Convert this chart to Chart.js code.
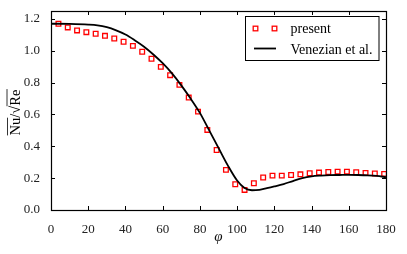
<!DOCTYPE html>
<html>
<head>
<meta charset="utf-8">
<script src="https://cdn.jsdelivr.net/npm/chart.js@4/dist/chart.umd.min.js"></script>
<style>
  html, body { margin: 0; padding: 0; background: #fff; }
  #wrap { width: 407px; height: 254px; }
</style>
</head>
<body>
<div id="wrap"><canvas id="nusselt"></canvas></div>
<script>

// present computation (open red squares)
var presentPhi = [4, 9, 14, 19, 24, 29, 34, 39, 44, 49, 54, 59, 64, 69, 74, 79, 84, 89,
                  94, 99, 104, 109, 114, 119, 124, 129, 134, 139, 144, 149, 154, 159, 164, 169, 174, 179];
var presentNu = [1.170, 1.147, 1.128, 1.117, 1.107, 1.094, 1.077, 1.057, 1.031, 0.994, 0.950, 0.899,
                 0.847, 0.786, 0.706, 0.618, 0.503, 0.377, 0.252, 0.162, 0.126, 0.168, 0.204, 0.216,
                 0.216, 0.220, 0.224, 0.231, 0.235, 0.239, 0.241, 0.241, 0.237, 0.233, 0.229, 0.227];

// Venezian et al. (solid black line)
var venezianPhi = [0, 10, 20, 25, 30, 35, 40, 45, 50, 55, 60, 65, 70, 75, 80, 85, 90, 95, 100,
                   104, 108, 112, 116, 120, 125, 130, 135, 140, 145, 150, 155, 160, 165, 170, 175, 180];
var venezianNu = [1.170, 1.169, 1.165, 1.160, 1.148, 1.128, 1.102, 1.066, 1.026, 0.977, 0.922, 0.858,
                  0.783, 0.700, 0.610, 0.500, 0.390, 0.280, 0.185, 0.138, 0.124, 0.127, 0.137, 0.148,
                  0.163, 0.182, 0.200, 0.211, 0.216, 0.219, 0.220, 0.221, 0.220, 0.218, 0.214, 0.206];

var xTicks = [0, 20, 40, 60, 80, 100, 120, 140, 160, 180];
var yTicks = [0.0, 0.2, 0.4, 0.6, 0.8, 1.0, 1.2];

var serif = "'Liberation Serif', 'DejaVu Serif', serif";

function toPoints(xs, ys) {
  var pts = [];
  for (var i = 0; i < xs.length; i++) {
    pts.push({ x: xs[i], y: ys[i] });
  }
  return pts;
}

// frame with inward ticks on all four sides, like the matplotlib original
var frameTicks = {
  id: 'frameTicks',
  afterDatasetsDraw: function(chart) {
    var ctx = chart.ctx;
    var a = chart.chartArea;
    var xs = chart.scales.x, ys = chart.scales.y;
    var len = 4;
    ctx.save();
    ctx.strokeStyle = '#000';
    ctx.lineWidth = 1;
    ctx.beginPath();
    xTicks.forEach(function(v) {
      var px = Math.round(xs.getPixelForValue(v)) + 0.5;
      ctx.moveTo(px, a.bottom); ctx.lineTo(px, a.bottom - len);
      ctx.moveTo(px, a.top); ctx.lineTo(px, a.top + len);
    });
    yTicks.forEach(function(v) {
      var py = Math.round(ys.getPixelForValue(v)) + 0.5;
      ctx.moveTo(a.left, py); ctx.lineTo(a.left + len, py);
      ctx.moveTo(a.right, py); ctx.lineTo(a.right - len, py);
    });
    ctx.stroke();
    ctx.lineWidth = 1.2;
    ctx.strokeRect(Math.round(a.left) + 0.5, Math.round(a.top) + 0.5,
                   Math.round(a.right - a.left), Math.round(a.bottom - a.top));
    ctx.restore();
  }
};

// y axis title: Nu with overline, over sqrt(Re)
var yTitle = {
  id: 'yTitle',
  afterDraw: function(chart) {
    var ctx = chart.ctx;
    ctx.save();
    ctx.translate(20, 112.5);
    ctx.rotate(-Math.PI / 2);
    ctx.font = '14.5px ' + serif;
    ctx.fillStyle = '#000';
    ctx.strokeStyle = '#000';
    ctx.lineWidth = 0.8;
    ctx.textBaseline = 'alphabetic';
    var wNu = ctx.measureText('Nu').width;
    var wSl = ctx.measureText('/').width;
    var wRt = ctx.measureText('\u221A').width;
    var wRe = ctx.measureText('Re').width;
    var x = -(wNu + wSl + wRt + wRe) / 2;
    ctx.fillText('Nu', x, 0);
    ctx.beginPath();
    ctx.moveTo(x, -12.5); ctx.lineTo(x + wNu, -12.5);
    x += wNu;
    ctx.fillText('/', x, 0);
    x += wSl;
    ctx.fillText('\u221A', x, 0);
    x += wRt;
    ctx.moveTo(x - 0.5, -13); ctx.lineTo(x + wRe + 0.5, -13);
    ctx.stroke();
    ctx.fillText('Re', x, 0);
    ctx.restore();
  }
};

// legend box inside the axes, upper right
var boxLegend = {
  id: 'boxLegend',
  afterDraw: function(chart) {
    var ctx = chart.ctx;
    var left = 245, top = 16, right = 379.5, bottom = 61;
    ctx.save();
    ctx.fillStyle = '#fff';
    ctx.fillRect(left, top, right - left, bottom - top);
    ctx.strokeStyle = '#000';
    ctx.lineWidth = 1;
    ctx.strokeRect(left + 0.5, top + 0.5, right - left - 1, bottom - top - 1);

    // present: two markers
    ctx.strokeStyle = '#ff0000';
    ctx.lineWidth = 1.3;
    [255.5, 274.5].forEach(function(mx) {
      ctx.strokeRect(mx - 2.3, 28.5 - 2.3, 4.6, 4.6);
    });
    // Venezian: line
    ctx.strokeStyle = '#000';
    ctx.lineWidth = 1.8;
    ctx.beginPath();
    ctx.moveTo(254, 48.5); ctx.lineTo(276, 48.5);
    ctx.stroke();

    ctx.fillStyle = '#000';
    ctx.font = '14px ' + serif;
    ctx.textBaseline = 'alphabetic';
    ctx.fillText(chart.data.datasets[0].label, 290.5, 33);
    ctx.fillText(chart.data.datasets[1].label, 290.5, 53.5);
    ctx.restore();
  }
};

function drawChart() {
  var ctx = document.getElementById('nusselt').getContext('2d');
  new Chart(ctx, {
    type: 'scatter',
    data: {
      datasets: [{
        label: 'present',
        data: toPoints(presentPhi, presentNu),
        showLine: false,
        pointStyle: 'rect',
        pointRadius: 3.3,
        pointBorderWidth: 1.3,
        pointBorderColor: '#ff0000',
        pointBackgroundColor: 'rgba(0,0,0,0)',
        order: 2
      }, {
        label: 'Venezian et al.',
        data: toPoints(venezianPhi, venezianNu),
        showLine: true,
        pointRadius: 0,
        borderColor: '#000',
        borderWidth: 1.8,
        cubicInterpolationMode: 'monotone',
        order: 1
      }]
    },
    options: {
      responsive: true,
      maintainAspectRatio: false,
      animation: false,
      devicePixelRatio: 1,
      layout: { padding: { top: 11, right: 21, left: 0, bottom: 0 } },
      plugins: {
        legend: { display: false },
        tooltip: { enabled: false }
      },
      scales: {
        x: {
          type: 'linear',
          min: 0,
          max: 180,
          grid: { display: false },
          border: { display: false },
          afterBuildTicks: function(scale) {
            scale.ticks = xTicks.map(function(v) { return { value: v }; });
          },
          afterFit: function(scale) { scale.height = 44; },
          ticks: {
            padding: 4,
            maxRotation: 0,
            color: '#222',
            font: { family: serif, size: 13 },
            callback: function(v) { return String(v); }
          },
          title: {
            display: true,
            text: '\u03C6',
            color: '#111',
            font: { family: serif, size: 15, style: 'italic' },
            padding: { top: 0, bottom: 8 }
          }
        },
        y: {
          type: 'linear',
          min: 0,
          max: 1.25,
          grid: { display: false },
          border: { display: false },
          afterBuildTicks: function(scale) {
            scale.ticks = yTicks.map(function(v) { return { value: v }; });
          },
          afterFit: function(scale) { scale.width = 51; },
          ticks: {
            padding: 3,
            color: '#222',
            font: { family: serif, size: 13 },
            callback: function(v) { return Number(v).toFixed(1); }
          }
        }
      }
    },
    plugins: [frameTicks, yTitle, boxLegend]
  });
}

drawChart();
</script>
</body>
</html>
